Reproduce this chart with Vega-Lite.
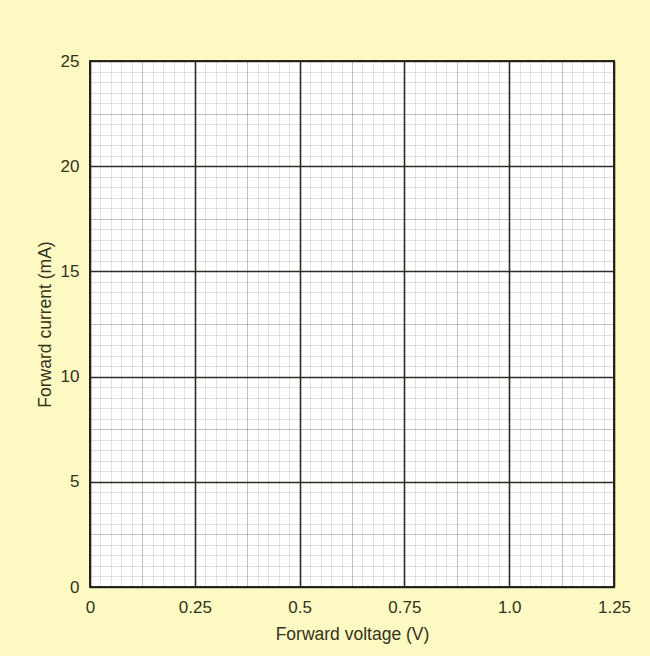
{
  "$schema": "https://vega.github.io/schema/vega-lite/v6.json",
  "autosize": "none",
  "width": 524,
  "height": 526,
  "padding": {"left": 90, "top": 61, "right": 36, "bottom": 69},
  "background": "#fdf9c3",
  "config": {
    "view": {"fill": "#ffffff", "stroke": "#2b2b22", "strokeWidth": 2},
    "axis": {
      "labelFont": "Liberation Sans",
      "titleFont": "Liberation Sans",
      "labelFontSize": 17,
      "titleFontSize": 17.5,
      "titleFontWeight": "normal",
      "labelColor": "#34321a",
      "titleColor": "#34321a",
      "domain": false,
      "ticks": false,
      "tickSize": 0,
      "labelOverlap": false,
      "labelFlush": false,
      "gridColor": "#22221a"
    }
  },
  "data": {"values": [{"voltage": 0, "current": 0}, {"voltage": 1.25, "current": 25}]},
  "mark": {"type": "point", "opacity": 0},
  "encoding": {
    "x": {
      "field": "voltage",
      "type": "quantitative",
      "scale": {"domain": [0, 1.25], "nice": false, "zero": false},
      "axis": {
        "title": "Forward voltage (V)",
        "values": [0,0.025,0.05,0.075,0.1,0.125,0.15,0.175,0.2,0.225,0.25,0.275,0.3,0.325,0.35,0.375,0.4,0.425,0.45,0.475,0.5,0.525,0.55,0.575,0.6,0.625,0.65,0.675,0.7,0.725,0.75,0.775,0.8,0.825,0.85,0.875,0.9,0.925,0.95,0.975,1,1.025,1.05,1.075,1.1,1.125,1.15,1.175,1.2,1.225,1.25],
        "labelExpr": "abs(datum.value*4-round(datum.value*4))<1e-6 ? (abs(datum.value-1)<1e-6 ? '1.0' : format(datum.value, '~g')) : ''",
        "labelPadding": 12,
        "titlePadding": 10,
        "grid": true,
        "gridOpacity": {"condition": [
          {"test": "abs(datum.value*4-round(datum.value*4))<1e-6", "value": 0.95},
          {"test": "abs(datum.value*8-round(datum.value*8))<1e-6", "value": 0.28}
        ], "value": 0.13},
        "gridWidth": {"condition": {"test": "abs(datum.value*4-round(datum.value*4))<1e-6", "value": 1.6}, "value": 1}
      }
    },
    "y": {
      "field": "current",
      "type": "quantitative",
      "scale": {"domain": [0, 25], "nice": false},
      "axis": {
        "title": "Forward current (mA)",
        "values": [0,0.5,1,1.5,2,2.5,3,3.5,4,4.5,5,5.5,6,6.5,7,7.5,8,8.5,9,9.5,10,10.5,11,11.5,12,12.5,13,13.5,14,14.5,15,15.5,16,16.5,17,17.5,18,18.5,19,19.5,20,20.5,21,21.5,22,22.5,23,23.5,24,24.5,25],
        "labelExpr": "abs(datum.value/5-round(datum.value/5))<1e-6 ? format(datum.value, 'd') : ''",
        "labelPadding": 11,
        "titlePadding": 6,
        "grid": true,
        "gridOpacity": {"condition": [
          {"test": "abs(datum.value/5-round(datum.value/5))<1e-6", "value": 0.95},
          {"test": "abs(datum.value/2.5-round(datum.value/2.5))<1e-6", "value": 0.28}
        ], "value": 0.13},
        "gridWidth": {"condition": {"test": "abs(datum.value/5-round(datum.value/5))<1e-6", "value": 1.6}, "value": 1}
      }
    }
  }
}
